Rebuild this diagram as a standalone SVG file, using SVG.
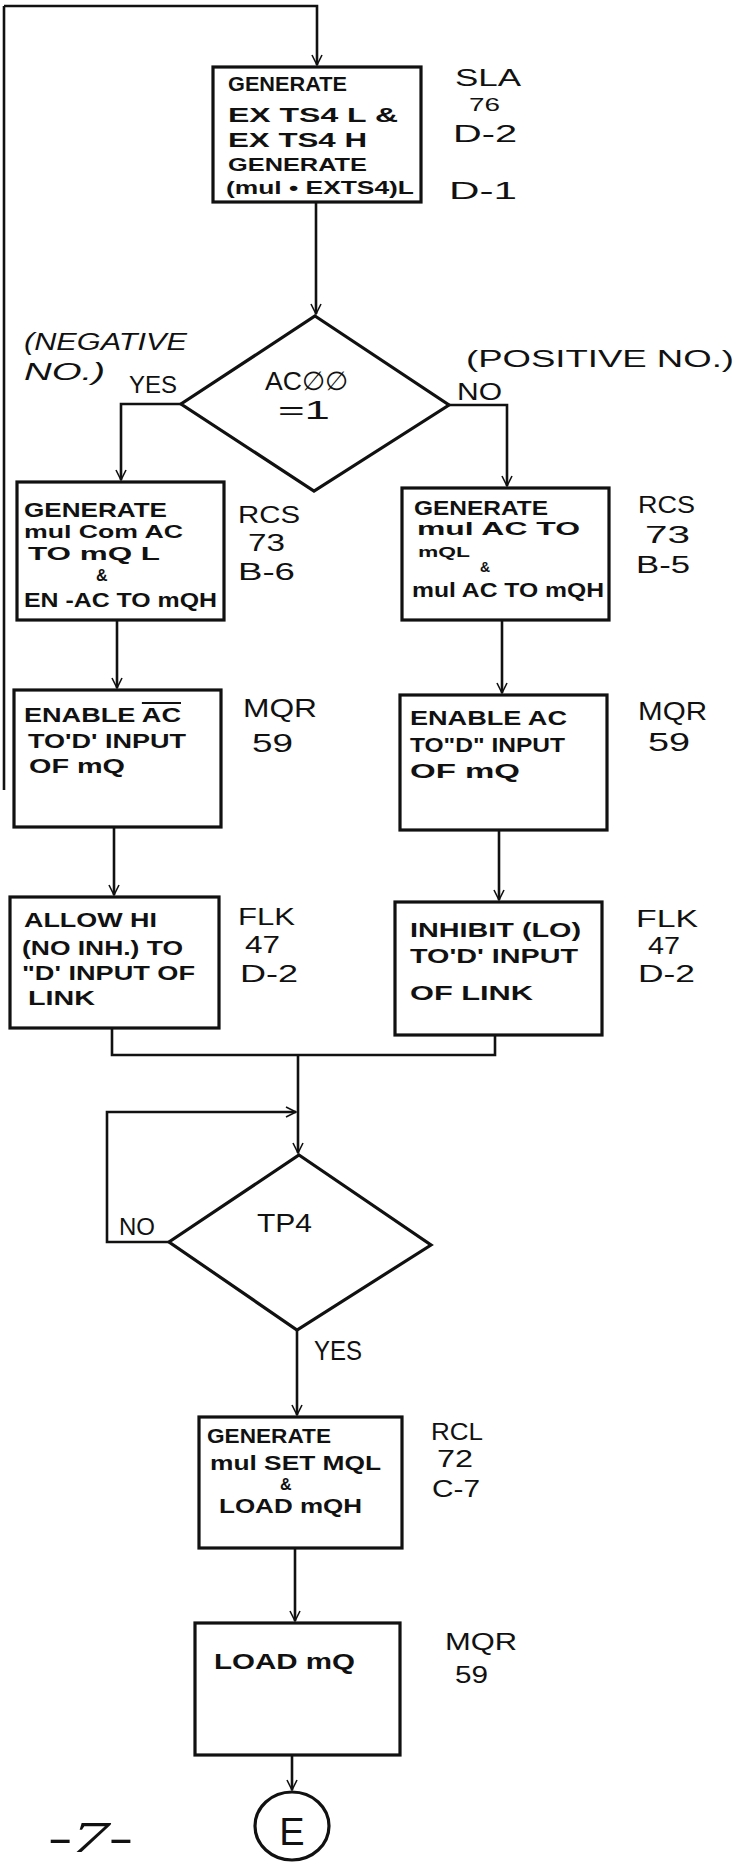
<svg xmlns="http://www.w3.org/2000/svg" width="740" height="1863" viewBox="0 0 740 1863">
<style>
.bg{fill:#ffffff}
.box{fill:none;stroke:#111;stroke-width:3.2}
.dia{fill:none;stroke:#111;stroke-width:3.2;stroke-linejoin:miter}
.ln{fill:none;stroke:#111;stroke-width:2.6}
.t{font-family:"Liberation Sans",Arial,sans-serif;font-size:20px;fill:#111;font-weight:bold}
.s{font-family:"Liberation Sans",Arial,sans-serif;font-size:24px;fill:#111}
.d{font-family:"Liberation Sans",Arial,sans-serif;font-size:26px;fill:#111}
.h{font-family:"Liberation Sans",Arial,sans-serif;font-size:23px;fill:#111;font-style:italic}
.ov{text-decoration:overline}
</style>
<defs>
<marker id="arr" viewBox="-12 -7 14 14" markerWidth="14" markerHeight="14" refX="0" refY="0" orient="auto" markerUnits="userSpaceOnUse">
<path d="M-10,-5 L0,0 L-10,5" fill="none" stroke="#111" stroke-width="1.6"/>
</marker>
</defs>
<rect class="bg" x="0" y="0" width="740" height="1863"/>

<g id="connectors">
<path class="ln" d="M4,6 V790"/>
<path class="ln" d="M4,6 H317 V65" marker-end="url(#arr)"/>
<path class="ln" d="M316,202 V314" marker-end="url(#arr)"/>
<path class="ln" d="M181,404 H121 V480" marker-end="url(#arr)"/>
<path class="ln" d="M449,405 H507 V486" marker-end="url(#arr)"/>
<path class="ln" d="M117,620 V688" marker-end="url(#arr)"/>
<path class="ln" d="M502,620 V693" marker-end="url(#arr)"/>
<path class="ln" d="M114,827 V895" marker-end="url(#arr)"/>
<path class="ln" d="M499,830 V900" marker-end="url(#arr)"/>
<path class="ln" d="M112,1028 V1055 H495 V1035"/>
<path class="ln" d="M298,1055 V1153" marker-end="url(#arr)"/>
<path class="ln" d="M169,1242 H107 V1112 H296" marker-end="url(#arr)"/>
<path class="ln" d="M297,1330 V1415" marker-end="url(#arr)"/>
<path class="ln" d="M295,1548 V1621" marker-end="url(#arr)"/>
<path class="ln" d="M292,1755 V1790" marker-end="url(#arr)"/>
</g>

<g id="n-generate-ex">
<rect class="box" x="213" y="67" width="208" height="135"/>
<text class="t" x="228" y="91" textLength="119" lengthAdjust="spacingAndGlyphs">GENERATE</text>
<text class="t" x="228" y="122" textLength="170" lengthAdjust="spacingAndGlyphs">EX TS4 L &amp;</text>
<text class="t" x="228" y="147" textLength="139" lengthAdjust="spacingAndGlyphs">EX TS4 H</text>
<text class="t" x="228" y="171" textLength="139" lengthAdjust="spacingAndGlyphs" style="font-size:19px">GENERATE</text>
<text class="t" x="226" y="194" textLength="188" lengthAdjust="spacingAndGlyphs" style="font-size:19px">(mul • EXTS4)L</text>
<text class="s" x="455" y="86" textLength="66" lengthAdjust="spacingAndGlyphs">SLA</text>
<text class="s" x="469" y="111" textLength="31" lengthAdjust="spacingAndGlyphs" style="font-size:19px">76</text>
<text class="s" x="453" y="142" textLength="64" lengthAdjust="spacingAndGlyphs">D-2</text>
<text class="s" x="449" y="199" textLength="68" lengthAdjust="spacingAndGlyphs">D-1</text>
</g>

<g id="n-ac00">
<polygon class="dia" points="315,316 449,405 314,491 181,404"/>
<text class="d" x="265" y="390" textLength="84" lengthAdjust="spacingAndGlyphs">AC∅∅</text>
<text class="d" x="278" y="419" textLength="52" lengthAdjust="spacingAndGlyphs">=1</text>
<text class="h" x="24" y="350" textLength="163" lengthAdjust="spacingAndGlyphs">(NEGATIVE</text>
<text class="h" x="24" y="380" textLength="81" lengthAdjust="spacingAndGlyphs">NO.)</text>
<text class="s" x="129" y="393" textLength="48" lengthAdjust="spacingAndGlyphs">YES</text>
<text class="s" x="466" y="367" textLength="268" lengthAdjust="spacingAndGlyphs">(POSITIVE  NO.)</text>
<text class="s" x="457" y="400" textLength="45" lengthAdjust="spacingAndGlyphs">NO</text>
</g>

<g id="n-gen-com">
<rect class="box" x="17" y="482" width="207" height="138"/>
<text class="t" x="24" y="517" textLength="143" lengthAdjust="spacingAndGlyphs">GENERATE</text>
<text class="t" x="24" y="538" textLength="159" lengthAdjust="spacingAndGlyphs" style="font-size:19px">mul Com AC</text>
<text class="t" x="28" y="560" textLength="132" lengthAdjust="spacingAndGlyphs" style="font-size:19px">TO mQ L</text>
<text class="t" x="96" y="581" style="font-size:16px">&amp;</text>
<text class="t" x="24" y="607" textLength="193" lengthAdjust="spacingAndGlyphs">EN -AC TO mQH</text>
<text class="s" x="238" y="523" textLength="62" lengthAdjust="spacingAndGlyphs">RCS</text>
<text class="s" x="248" y="551" textLength="37" lengthAdjust="spacingAndGlyphs">73</text>
<text class="s" x="238" y="580" textLength="57" lengthAdjust="spacingAndGlyphs">B-6</text>
</g>

<g id="n-gen-ac">
<rect class="box" x="402" y="488" width="207" height="132"/>
<text class="t" x="414" y="515" textLength="134" lengthAdjust="spacingAndGlyphs">GENERATE</text>
<text class="t" x="417" y="535" textLength="163" lengthAdjust="spacingAndGlyphs" style="font-size:18px">mul AC TO</text>
<text class="t" x="418" y="557" textLength="52" lengthAdjust="spacingAndGlyphs" style="font-size:15px">mQL</text>
<text class="t" x="480" y="572" style="font-size:14px">&amp;</text>
<text class="t" x="412" y="597" textLength="192" lengthAdjust="spacingAndGlyphs">mul AC TO mQH</text>
<text class="s" x="638" y="513" textLength="57" lengthAdjust="spacingAndGlyphs">RCS</text>
<text class="s" x="645" y="543" textLength="45" lengthAdjust="spacingAndGlyphs">73</text>
<text class="s" x="636" y="573" textLength="54" lengthAdjust="spacingAndGlyphs">B-5</text>
</g>

<g id="n-enable-acbar">
<rect class="box" x="14" y="690" width="207" height="137"/>
<text class="t" x="24" y="722" textLength="157" lengthAdjust="spacingAndGlyphs">ENABLE <tspan class="ov">AC</tspan></text>
<text class="t" x="28" y="748" textLength="158" lengthAdjust="spacingAndGlyphs">TO'D' INPUT</text>
<text class="t" x="29" y="773" textLength="96" lengthAdjust="spacingAndGlyphs">OF mQ</text>
<text class="s" x="243" y="717" textLength="74" lengthAdjust="spacingAndGlyphs" style="font-size:26px">MQR</text>
<text class="s" x="252" y="752" textLength="41" lengthAdjust="spacingAndGlyphs" style="font-size:26px">59</text>
</g>

<g id="n-enable-ac">
<rect class="box" x="400" y="695" width="207" height="135"/>
<text class="t" x="410" y="725" textLength="157" lengthAdjust="spacingAndGlyphs">ENABLE AC</text>
<text class="t" x="410" y="752" textLength="155" lengthAdjust="spacingAndGlyphs">TO"D" INPUT</text>
<text class="t" x="410" y="778" textLength="110" lengthAdjust="spacingAndGlyphs">OF mQ</text>
<text class="s" x="638" y="720" textLength="69" lengthAdjust="spacingAndGlyphs" style="font-size:26px">MQR</text>
<text class="s" x="648" y="751" textLength="42" lengthAdjust="spacingAndGlyphs" style="font-size:26px">59</text>
</g>

<g id="n-allow-hi">
<rect class="box" x="10" y="897" width="209" height="131"/>
<text class="t" x="24" y="927" textLength="133" lengthAdjust="spacingAndGlyphs">ALLOW HI</text>
<text class="t" x="22" y="955" textLength="161" lengthAdjust="spacingAndGlyphs">(NO INH.) TO</text>
<text class="t" x="22" y="980" textLength="173" lengthAdjust="spacingAndGlyphs">"D' INPUT OF</text>
<text class="t" x="28" y="1005" textLength="67" lengthAdjust="spacingAndGlyphs">LINK</text>
<text class="s" x="238" y="925" textLength="57" lengthAdjust="spacingAndGlyphs">FLK</text>
<text class="s" x="245" y="953" textLength="35" lengthAdjust="spacingAndGlyphs">47</text>
<text class="s" x="240" y="982" textLength="58" lengthAdjust="spacingAndGlyphs">D-2</text>
</g>

<g id="n-inhibit">
<rect class="box" x="395" y="902" width="207" height="133"/>
<text class="t" x="410" y="937" textLength="171" lengthAdjust="spacingAndGlyphs">INHIBIT (LO)</text>
<text class="t" x="410" y="963" textLength="168" lengthAdjust="spacingAndGlyphs">TO'D' INPUT</text>
<text class="t" x="410" y="1000" textLength="123" lengthAdjust="spacingAndGlyphs">OF LINK</text>
<text class="s" x="636" y="927" textLength="62" lengthAdjust="spacingAndGlyphs">FLK</text>
<text class="s" x="648" y="954" textLength="32" lengthAdjust="spacingAndGlyphs">47</text>
<text class="s" x="638" y="982" textLength="57" lengthAdjust="spacingAndGlyphs">D-2</text>
</g>

<g id="n-tp4">
<polygon class="dia" points="299,1155 431,1245 297,1330 169,1242"/>
<text class="d" x="257" y="1232" textLength="55" lengthAdjust="spacingAndGlyphs">TP4</text>
<text class="s" x="119" y="1235" textLength="36" lengthAdjust="spacingAndGlyphs">NO</text>
<text class="s" x="314" y="1360" textLength="48" lengthAdjust="spacingAndGlyphs" style="font-size:28px">YES</text>
</g>

<g id="n-gen-set">
<rect class="box" x="199" y="1417" width="203" height="131"/>
<text class="t" x="207" y="1443" textLength="124" lengthAdjust="spacingAndGlyphs">GENERATE</text>
<text class="t" x="210" y="1470" textLength="171" lengthAdjust="spacingAndGlyphs">mul SET MQL</text>
<text class="t" x="280" y="1490" style="font-size:16px">&amp;</text>
<text class="t" x="219" y="1513" textLength="143" lengthAdjust="spacingAndGlyphs">LOAD mQH</text>
<text class="s" x="431" y="1440" textLength="52" lengthAdjust="spacingAndGlyphs">RCL</text>
<text class="s" x="437" y="1467" textLength="36" lengthAdjust="spacingAndGlyphs">72</text>
<text class="s" x="432" y="1497" textLength="48" lengthAdjust="spacingAndGlyphs">C-7</text>
</g>

<g id="n-load-mq">
<rect class="box" x="195" y="1623" width="205" height="132"/>
<text class="t" x="214" y="1669" textLength="141" lengthAdjust="spacingAndGlyphs" style="font-size:22px">LOAD mQ</text>
<text class="s" x="445" y="1650" textLength="72" lengthAdjust="spacingAndGlyphs">MQR</text>
<text class="s" x="455" y="1683" textLength="33" lengthAdjust="spacingAndGlyphs">59</text>
</g>

<g id="n-e">
<ellipse class="box" cx="292" cy="1826" rx="37" ry="34"/>
<text class="d" x="292" y="1845" text-anchor="middle" style="font-size:38px">E</text>
</g>

<text x="48" y="1852" style="font-family:'Liberation Serif',serif;font-size:44px;font-style:italic;fill:#111" textLength="85" lengthAdjust="spacingAndGlyphs">-7-</text>
</svg>
